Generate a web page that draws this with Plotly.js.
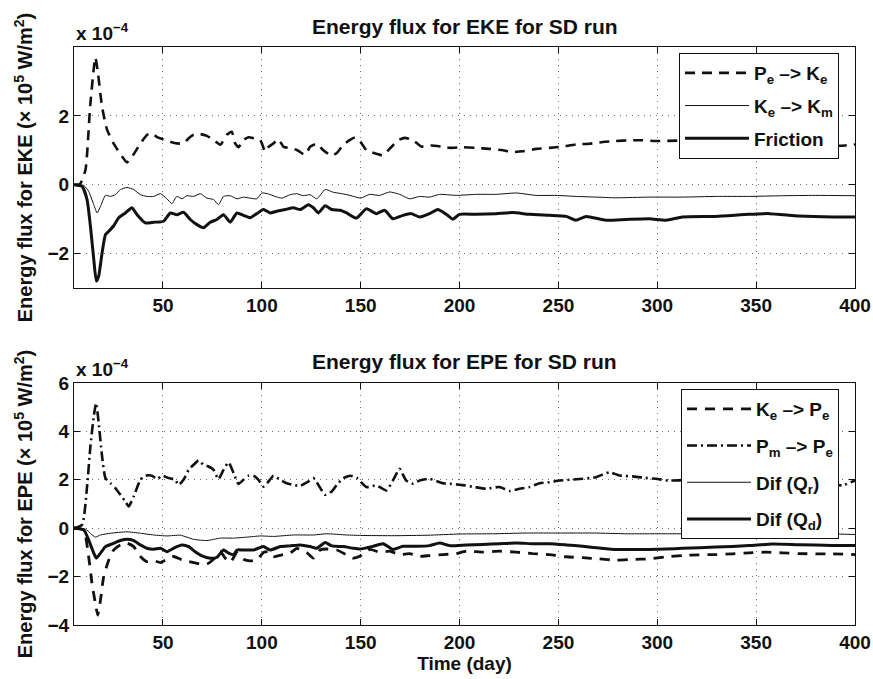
<!DOCTYPE html>
<html>
<head>
<meta charset="utf-8">
<script src="https://cdn.plot.ly/plotly-3.0.1.min.js"></script>
<style>
  html, body { margin: 0; padding: 0; background: #ffffff; }
  #chart { width: 873px; height: 679px; }
</style>
</head>
<body>
<div id="chart"></div>
<script>
// ---- Upper panel: eddy kinetic energy fluxes (units of 1e-4 x 1e5 W/m^2) ----
const peKeDays = [5, 8, 10.8, 13.2, 15.8, 17, 19.2, 21.7, 25, 29.3, 31.8, 35, 38.6, 42, 44.4, 47, 49.5, 53.7, 57, 60.4, 63, 65.5, 68.9, 72.2, 75.6, 79, 82.3, 84.8, 86.5, 88.2, 90.7, 93.3, 95.8, 99.2, 101.7, 103.4, 105.9, 108.4, 111, 114.3, 117.7, 121.9, 124.4, 127.8, 131.1, 135.4, 137.9, 141.2, 144.6, 147.1, 150, 152.9, 157.9, 161.3, 164.6, 168.9, 172.2, 176.4, 180.6, 185.7, 190.7, 195, 201.7, 208.4, 215, 221.9, 226.9, 232, 238.7, 245.5, 252, 259, 265.7, 272.4, 279, 285.9, 292.6, 299, 310, 320, 330, 340, 350, 360, 370, 380, 390, 395, 400];
const peKeVals = [0, 0.02, 0.43, 2.3, 3.7, 3.3, 2.26, 1.6, 1.2, 0.82, 0.65, 0.87, 1.2, 1.45, 1.5, 1.38, 1.33, 1.25, 1.2, 1.2, 1.35, 1.45, 1.47, 1.42, 1.3, 1.16, 1.45, 1.54, 1.2, 1.09, 1.3, 1.38, 1.35, 1.3, 0.96, 1.1, 1.2, 1.32, 1.1, 1.06, 1.01, 0.87, 1.1, 1.19, 1.0, 0.84, 0.92, 1.16, 1.3, 1.37, 1.24, 1.0, 0.9, 0.85, 1.04, 1.29, 1.36, 1.3, 1.11, 1.14, 1.11, 1.07, 1.09, 1.07, 1.04, 1.0, 0.95, 0.97, 1.04, 1.07, 1.11, 1.17, 1.19, 1.24, 1.27, 1.29, 1.29, 1.27, 1.28, 1.3, 1.27, 1.25, 1.22, 1.2, 1.18, 1.15, 1.13, 1.14, 1.17];

const keKmDays = [5, 9.9, 12.4, 15, 16.7, 18.4, 20.9, 23.4, 25.9, 28.5, 31.8, 35.2, 38.6, 41.9, 45.3, 48.7, 52, 54.5, 57, 59.6, 62.1, 65.5, 68.9, 72.2, 75.6, 78.1, 80.6, 84, 87.4, 90.7, 94.1, 97.5, 100, 103.4, 106.7, 110.1, 114.3, 117.7, 121, 124.4, 127.8, 132, 136.2, 140.4, 144.6, 150, 154.5, 159.6, 164.6, 169.7, 174.7, 179.8, 184.8, 189.9, 198.3, 208.4, 218.5, 228.6, 238.7, 248.8, 258.9, 269, 279, 296, 312.8, 329.6, 346.5, 363.3, 380, 400];
const keKmVals = [0, -0.02, -0.19, -0.58, -0.82, -0.63, -0.31, -0.34, -0.29, -0.14, -0.08, -0.14, -0.29, -0.34, -0.34, -0.26, -0.41, -0.55, -0.34, -0.41, -0.32, -0.34, -0.26, -0.39, -0.43, -0.58, -0.34, -0.32, -0.41, -0.36, -0.39, -0.41, -0.24, -0.27, -0.34, -0.39, -0.29, -0.26, -0.32, -0.29, -0.41, -0.14, -0.22, -0.26, -0.31, -0.39, -0.28, -0.31, -0.21, -0.28, -0.41, -0.34, -0.36, -0.28, -0.31, -0.28, -0.28, -0.24, -0.31, -0.31, -0.34, -0.36, -0.38, -0.36, -0.36, -0.34, -0.34, -0.32, -0.31, -0.32];

const frictionDays = [5, 9.1, 11.6, 13.3, 15, 16.3, 17.5, 19.2, 20.9, 22.6, 25, 27.6, 31, 34.3, 36.9, 41.1, 45.3, 50.3, 53.7, 57, 60.4, 63.8, 67.2, 70.5, 73.9, 77.3, 80.6, 84, 87.4, 90.7, 94.1, 97.5, 100.8, 104.2, 107.6, 111.8, 116, 119.4, 123.6, 126.1, 128.6, 132, 135.4, 139.6, 142.9, 147.8, 152.9, 157.9, 162.1, 166.3, 171.4, 175.6, 179.8, 184.8, 189, 193.3, 196.6, 200, 208.4, 218.5, 226.9, 235.3, 245.5, 253.9, 258.9, 264, 274, 284.2, 296, 304.4, 312.8, 329.6, 346.5, 356.6, 371.8, 388.6, 400];
const frictionVals = [0, -0.05, -0.43, -1.2, -2.17, -2.8, -2.65, -1.98, -1.45, -1.35, -1.2, -0.96, -0.82, -0.67, -0.87, -1.11, -1.09, -1.06, -0.82, -0.87, -0.8, -1.01, -1.16, -1.25, -1.09, -1.01, -0.87, -1.09, -0.82, -0.89, -0.96, -0.84, -0.72, -0.82, -0.77, -0.72, -0.67, -0.72, -0.58, -0.67, -0.82, -0.61, -0.72, -0.74, -0.82, -0.97, -0.7, -0.84, -0.74, -0.99, -0.89, -0.84, -0.94, -0.84, -0.72, -0.86, -1.0, -0.86, -0.86, -0.84, -0.81, -0.86, -0.89, -0.92, -1.03, -0.92, -1.03, -1.01, -0.99, -1.03, -0.94, -0.92, -0.86, -0.84, -0.91, -0.94, -0.94];

// ---- Lower panel: eddy potential energy fluxes ----
const kePeDays = [5, 9.9, 12.4, 14.1, 15.8, 17, 18.4, 20, 22.6, 25.1, 28.5, 31.8, 35.2, 38.6, 41.9, 45.3, 48.7, 52, 55.4, 58.8, 63, 67.2, 72.2, 75.6, 79, 81.5, 84, 87.4, 90.7, 94.1, 97.5, 100.8, 103.4, 105.9, 110.1, 114.3, 117.7, 122.7, 126.1, 129.5, 132.8, 137.9, 142.9, 146.3, 149.5, 154.5, 159.6, 164.6, 169.7, 174.7, 179.8, 184.8, 191.6, 198.3, 203.4, 211.8, 220.2, 228.6, 237, 245.5, 253.9, 262.3, 270.7, 279.1, 287.5, 295.9, 304.4, 312.8, 321.2, 329.6, 338, 346.5, 354.9, 363.3, 371.7, 380.1, 388.6, 400];
const kePeVals = [0, -0.07, -1.17, -2.28, -3.1, -3.59, -2.97, -2.0, -1.31, -0.9, -0.69, -0.62, -0.76, -1.17, -1.38, -1.34, -1.42, -1.28, -1.17, -1.28, -1.38, -1.45, -1.48, -1.28, -0.97, -1.24, -1.42, -1.01, -1.28, -1.35, -1.31, -1.0, -0.97, -1.17, -1.1, -1.03, -0.83, -1.01, -1.24, -0.9, -0.86, -0.9, -1.1, -1.24, -1.16, -0.88, -0.99, -0.95, -1.09, -1.05, -1.16, -1.13, -1.09, -1.05, -0.95, -0.99, -0.95, -0.99, -1.05, -1.09, -1.18, -1.22, -1.27, -1.32, -1.29, -1.27, -1.18, -1.13, -1.1, -1.09, -1.06, -1.02, -0.99, -1.02, -1.05, -1.06, -1.06, -1.09];

const pmPeDays = [5, 9.1, 11.6, 13.3, 15, 16.2, 17.5, 19.2, 20.9, 23.4, 25.9, 28.5, 31, 32.7, 35.2, 38.6, 41.1, 44.4, 47, 49.5, 52.9, 56.2, 57.9, 60.4, 63, 65.5, 68, 70.5, 73, 75.6, 78.1, 80.6, 83.2, 85.7, 88.2, 90.7, 93.3, 95.8, 98.3, 100.8, 103.4, 105.9, 109.3, 112.6, 116, 119.4, 123.6, 126.1, 128.6, 132, 135.4, 137.9, 141.2, 144.6, 148, 152.9, 157.9, 163, 166.3, 169.7, 173, 176.4, 179.8, 184.8, 191.6, 195, 202.5, 207.6, 213.5, 220.2, 225.3, 230.3, 235.4, 240.4, 245.5, 250.5, 255.6, 262.3, 269, 275.8, 280.8, 287.5, 292.6, 299.3, 306, 315, 325, 335, 345, 355, 365, 375, 385, 393.6, 400];
const pmPeVals = [0, 0.14, 1.72, 3.38, 4.62, 5.17, 4.34, 2.97, 2.07, 1.86, 1.66, 1.38, 1.1, 0.9, 1.31, 2.0, 2.17, 2.17, 2.03, 2.17, 2.07, 2.0, 1.79, 2.0, 2.41, 2.62, 2.8, 2.62, 2.55, 2.41, 2.03, 2.41, 2.72, 2.28, 1.83, 2.0, 2.17, 2.17, 2.0, 1.72, 1.93, 2.17, 2.0, 1.86, 1.79, 1.75, 1.93, 2.07, 1.79, 1.38, 1.52, 1.79, 2.07, 2.17, 2.08, 1.7, 1.77, 1.56, 1.97, 2.45, 1.97, 1.84, 1.97, 2.04, 1.86, 1.84, 1.77, 1.7, 1.63, 1.7, 1.54, 1.63, 1.7, 1.86, 1.9, 1.97, 2.0, 2.04, 2.11, 2.31, 2.18, 2.14, 2.09, 2.04, 1.97, 2.0, 2.05, 2.0, 1.95, 2.0, 1.95, 1.9, 1.85, 1.77, 1.97];

const difQrDays = [5, 10.8, 13.3, 15.8, 18.4, 23.4, 31.8, 38.6, 45.3, 52, 58.8, 65.5, 72.2, 79, 85.7, 92.4, 99.2, 105.9, 116, 126.1, 132.8, 142.9, 150, 167, 184, 200, 217, 234, 251, 268, 285, 302, 318, 352, 385, 400];
const difQrVals = [0, -0.04, -0.21, -0.37, -0.28, -0.21, -0.15, -0.21, -0.28, -0.32, -0.29, -0.46, -0.51, -0.41, -0.41, -0.37, -0.32, -0.34, -0.28, -0.28, -0.23, -0.28, -0.3, -0.31, -0.29, -0.24, -0.23, -0.2, -0.2, -0.2, -0.23, -0.23, -0.23, -0.2, -0.23, -0.26];

const difQdDays = [5, 9.9, 12.4, 15, 16.3, 18.4, 20.9, 24.2, 28.5, 31.8, 35.2, 38.6, 41.9, 45.3, 48.7, 52, 56.2, 59.6, 63, 66.3, 69.7, 73.9, 77.3, 80.6, 83.2, 85.7, 87.4, 90.7, 95.8, 100.8, 104.2, 109.3, 114.3, 119.4, 124.4, 127.8, 132, 135.4, 141.2, 146.3, 149.5, 156.2, 161.3, 166.3, 171.4, 178.1, 184.8, 189.9, 195, 203.4, 211.8, 220.2, 228.6, 237, 245.5, 253.9, 262.3, 270.7, 279.1, 287.5, 295.9, 304.4, 312.8, 329.6, 346.5, 358.3, 371.7, 388.6, 400];
const difQdVals = [0, -0.07, -0.48, -1.03, -1.24, -1.03, -0.76, -0.65, -0.51, -0.46, -0.51, -0.69, -0.83, -0.87, -0.83, -0.97, -0.79, -0.69, -0.76, -0.97, -1.14, -1.24, -1.2, -0.9, -1.03, -1.1, -0.9, -0.9, -0.9, -0.76, -0.9, -0.76, -0.73, -0.69, -0.76, -0.83, -0.59, -0.73, -0.76, -0.83, -0.86, -0.75, -0.64, -0.88, -0.75, -0.75, -0.72, -0.61, -0.72, -0.69, -0.67, -0.64, -0.61, -0.64, -0.64, -0.69, -0.75, -0.82, -0.88, -0.88, -0.88, -0.86, -0.83, -0.78, -0.72, -0.65, -0.68, -0.71, -0.72];

// Axis ticks
const timeTicks = [50, 100, 150, 200, 250, 300, 350, 400];
const ekeTicks = [-2, 0, 2];
const epeTicks = [-4, -2, 0, 2, 4, 6];

// ---- figure geometry ----
const W = 873, H = 679;
const M = { l: 74, r: 18, t: 47, b: 54 };
const plotH = H - M.t - M.b;
const py = (pix) => (H - M.b - pix) / plotH;     // pixel row -> paper y

const FONT = '"Liberation Sans", Arial, Helvetica, sans-serif';
const INK = '#111111';

let groupId = 0;
function line(x, y, name, width, dash, xa, ya, legend) {
  groupId += 1;
  return {
    type: 'scatter', mode: 'lines', x: x, y: y, name: name,
    xaxis: xa, yaxis: ya, legend: legend, legendgroup: 'g' + groupId,
    line: { color: INK, width: width, dash: dash, shape: 'spline', smoothing: 0.5 }
  };
}

const traces = [
  line(peKeDays, peKeVals, 'P<sub>e</sub> –> K<sub>e</sub>', 2.6, '10px,7px', 'x', 'y', 'legend'),
  line(keKmDays, keKmVals, 'K<sub>e</sub> –> K<sub>m</sub>', 1, 'solid', 'x', 'y', 'legend'),
  line(frictionDays, frictionVals, 'Friction', 3, 'solid', 'x', 'y', 'legend'),
  line(kePeDays, kePeVals, 'K<sub>e</sub> –> P<sub>e</sub>', 2.8, '10px,8px', 'x2', 'y2', 'legend2'),
  line(pmPeDays, pmPeVals, 'P<sub>m</sub> –> P<sub>e</sub>', 2.6, '10px,4px,2px,4px', 'x2', 'y2', 'legend2'),
  line(difQrDays, difQrVals, 'Dif (Q<sub>r</sub>)', 1, 'solid', 'x2', 'y2', 'legend2'),
  line(difQdDays, difQdVals, 'Dif (Q<sub>d</sub>)', 3, 'solid', 'x2', 'y2', 'legend2')
];

const tickFont = { family: FONT, size: 19, color: INK, weight: 'bold' };
const GRID = '#6f6f6f';

function xAxis(anchor, withTitle) {
  const ax = {
    anchor: anchor, domain: [0, 1], range: [5, 400],
    tickmode: 'array', tickvals: timeTicks,
    ticks: 'inside', ticklen: 6, tickwidth: 1, tickcolor: INK,
    showline: true, linecolor: INK, linewidth: 1, mirror: 'ticks',
    showgrid: true, gridcolor: GRID, griddash: '1px,5px', gridwidth: 1,
    zeroline: false, tickfont: tickFont
  };
  if (withTitle) {
    ax.title = { text: 'Time (day)', font: { family: FONT, size: 19, color: INK, weight: 'bold' }, standoff: 2 };
  }
  return ax;
}

function yAxis(anchor, domain, range, ticks, title) {
  return {
    anchor: anchor, domain: domain, range: range,
    tickmode: 'array', tickvals: ticks,
    ticks: 'inside', ticklen: 6, tickwidth: 1, tickcolor: INK,
    showline: true, linecolor: INK, linewidth: 1, mirror: 'ticks',
    showgrid: true, gridcolor: GRID, griddash: '1px,5px', gridwidth: 1,
    zeroline: false, tickfont: tickFont,
    title: { text: title, font: { family: FONT, size: 20, color: INK, weight: 'bold' }, standoff: 9 }
  };
}

const legendStyle = (yTop, gap) => ({
  x: (839 - M.l) / (W - M.l - M.r), xanchor: 'right',
  y: yTop, yanchor: 'top',
  bgcolor: '#ffffff', bordercolor: INK, borderwidth: 1,
  font: { family: FONT, size: 19, color: INK, weight: 'bold' },
  itemwidth: 64, tracegroupgap: gap
});

const annFont = { family: FONT, size: 21, color: INK, weight: 'bold' };
const expFont = { family: FONT, size: 19, color: INK, weight: 'bold' };

const layout = {
  width: W, height: H,
  margin: M,
  paper_bgcolor: '#ffffff', plot_bgcolor: '#ffffff',
  font: { family: FONT, color: INK },
  showlegend: true,
  xaxis: xAxis('y', false),
  yaxis: yAxis('x', [py(288), 1], [-3, 4], ekeTicks, 'Energy flux for EKE (× 10<sup>5</sup> W/m<sup>2</sup>)'),
  xaxis2: xAxis('y2', true),
  yaxis2: yAxis('x2', [0, py(383)], [-4, 6], epeTicks, 'Energy flux for EPE (× 10<sup>5</sup> W/m<sup>2</sup>)'),
  legend: legendStyle(py(53), 5),
  legend2: legendStyle(py(389), 9),
  annotations: [
    { text: 'Energy flux for EKE for SD run', xref: 'paper', yref: 'paper', x: 0.5, y: py(26), xanchor: 'center', yanchor: 'middle', showarrow: false, font: annFont },
    { text: 'Energy flux for EPE for SD run', xref: 'paper', yref: 'paper', x: 0.5, y: py(361), xanchor: 'center', yanchor: 'middle', showarrow: false, font: annFont },
    { text: 'x 10<sup>−4</sup>', xref: 'paper', yref: 'paper', x: 0, y: py(32), xanchor: 'left', yanchor: 'middle', showarrow: false, font: expFont },
    { text: 'x 10<sup>−4</sup>', xref: 'paper', yref: 'paper', x: 0, y: py(368), xanchor: 'left', yanchor: 'middle', showarrow: false, font: expFont }
  ]
};

Plotly.newPlot('chart', traces, layout, { staticPlot: true, displayModeBar: false });
</script>
</body>
</html>
